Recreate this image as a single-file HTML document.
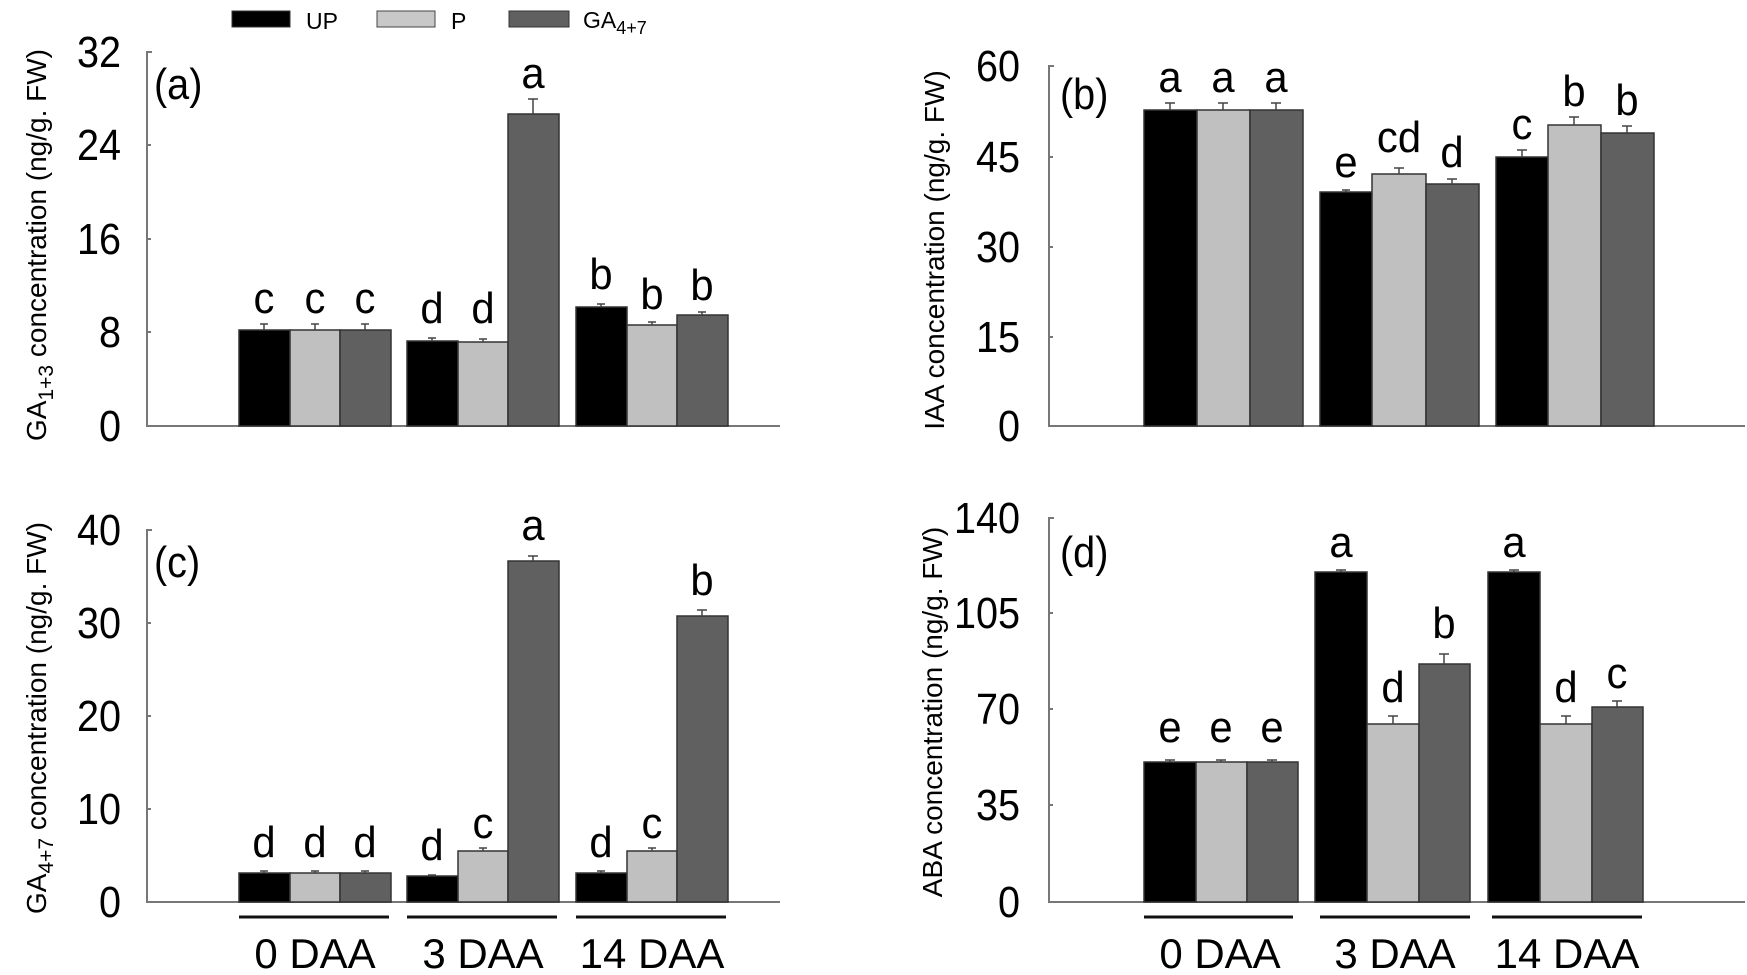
<!DOCTYPE html>
<html><head><meta charset="utf-8"><style>
html,body{margin:0;padding:0;background:#fff;}
svg{display:block;font-family:"Liberation Sans",Arial,sans-serif;}
.t{font-size:44px;fill:#000;}
.l{font-size:44px;fill:#000;}
.y{font-size:28px;fill:#000;}
.g{font-size:42px;fill:#000;}
.lg{font-size:23px;fill:#000;}
</style></head><body>
<svg width="1747" height="975" viewBox="0 0 1747 975" xmlns="http://www.w3.org/2000/svg">
<rect x="232" y="11" width="58" height="16" fill="#000" stroke="#333"/>
<text class="lg" x="306" y="29">UP</text>
<rect x="377" y="11" width="58" height="16" fill="#c8c8c8" stroke="#444"/>
<text class="lg" x="451" y="29">P</text>
<rect x="509" y="11" width="60" height="16" fill="#606060" stroke="#333"/>
<text class="lg" x="583" y="28">GA<tspan font-size="18" dy="6">4+7</tspan></text>

<g stroke="#777" stroke-width="2" fill="none">
<path d="M152 52 H147 V426 H780"/>
<path d="M147 332 h4 M147 239 h4 M147 145 h4"/>
<path d="M1054 66 H1049 V426 H1745"/>
<path d="M1049 157 h4 M1049 247 h4 M1049 337 h4"/>
<path d="M152 530 H147 V902 H780"/>
<path d="M147 623 h4 M147 716 h4 M147 809 h4"/>
<path d="M1054 518 H1049 V902 H1745"/>
<path d="M1049 613 h4 M1049 709 h4 M1049 805 h4"/>
</g>

<g class="t" text-anchor="end">
<text transform="translate(121,67) scale(.9,1)">32</text>
<text transform="translate(121,160) scale(.9,1)">24</text>
<text transform="translate(121,254) scale(.9,1)">16</text>
<text transform="translate(121,347) scale(.9,1)">8</text>
<text transform="translate(121,441) scale(.9,1)">0</text>

<text transform="translate(1020,81) scale(.9,1)">60</text>
<text transform="translate(1020,172) scale(.9,1)">45</text>
<text transform="translate(1020,262) scale(.9,1)">30</text>
<text transform="translate(1020,352) scale(.9,1)">15</text>
<text transform="translate(1020,441) scale(.9,1)">0</text>

<text transform="translate(121,545) scale(.9,1)">40</text>
<text transform="translate(121,638) scale(.9,1)">30</text>
<text transform="translate(121,731) scale(.9,1)">20</text>
<text transform="translate(121,824) scale(.9,1)">10</text>
<text transform="translate(121,917) scale(.9,1)">0</text>

<text transform="translate(1020,533) scale(.9,1)">140</text>
<text transform="translate(1020,628) scale(.9,1)">105</text>
<text transform="translate(1020,724) scale(.9,1)">70</text>
<text transform="translate(1020,820) scale(.9,1)">35</text>
<text transform="translate(1020,917) scale(.9,1)">0</text>
</g>

<g class="l">
<text transform="translate(154,99) scale(.9,1)">(a)</text>
<text transform="translate(1060,109) scale(.9,1)">(b)</text>
<text transform="translate(154,577) scale(.9,1)">(c)</text>
<text transform="translate(1060,567) scale(.9,1)">(d)</text>
</g>

<text class="y" text-anchor="middle" transform="translate(46,245) rotate(-90)">GA<tspan font-size="21" dy="7">1+3</tspan><tspan dy="-7"> concentration (ng/g. FW)</tspan></text>
<text class="y" text-anchor="middle" transform="translate(944,250) rotate(-90)">IAA concentration (ng/g. FW)</text>
<text class="y" text-anchor="middle" transform="translate(46,718) rotate(-90)">GA<tspan font-size="21" dy="7">4+7</tspan><tspan dy="-7"> concentration (ng/g. FW)</tspan></text>
<text class="y" text-anchor="middle" transform="translate(942,712) rotate(-90)">ABA concentration (ng/g. FW)</text>

<g stroke="#333" stroke-width="1.5">
<rect x="239" y="330" width="51" height="96" fill="#000"/>
<rect x="290" y="330" width="50" height="96" fill="#c0c0c0"/>
<rect x="340" y="330" width="51" height="96" fill="#606060"/>
<rect x="407" y="341" width="51" height="85" fill="#000"/>
<rect x="458" y="342" width="50" height="84" fill="#c0c0c0"/>
<rect x="508" y="114" width="51" height="312" fill="#606060"/>
<rect x="576" y="307" width="51" height="119" fill="#000"/>
<rect x="627" y="325" width="50" height="101" fill="#c0c0c0"/>
<rect x="677" y="315" width="51" height="111" fill="#606060"/>
<rect x="1144" y="110" width="53" height="316" fill="#000"/>
<rect x="1197" y="110" width="53" height="316" fill="#c0c0c0"/>
<rect x="1250" y="110" width="53" height="316" fill="#606060"/>
<rect x="1320" y="192" width="52" height="234" fill="#000"/>
<rect x="1372" y="174" width="54" height="252" fill="#c0c0c0"/>
<rect x="1426" y="184" width="53" height="242" fill="#606060"/>
<rect x="1496" y="157" width="52" height="269" fill="#000"/>
<rect x="1548" y="125" width="53" height="301" fill="#c0c0c0"/>
<rect x="1601" y="133" width="53" height="293" fill="#606060"/>
<rect x="239" y="873" width="51" height="29" fill="#000"/>
<rect x="290" y="873" width="50" height="29" fill="#c0c0c0"/>
<rect x="340" y="873" width="51" height="29" fill="#606060"/>
<rect x="407" y="876" width="51" height="26" fill="#000"/>
<rect x="458" y="851" width="50" height="51" fill="#c0c0c0"/>
<rect x="508" y="561" width="51" height="341" fill="#606060"/>
<rect x="576" y="873" width="51" height="29" fill="#000"/>
<rect x="627" y="851" width="50" height="51" fill="#c0c0c0"/>
<rect x="677" y="616" width="51" height="286" fill="#606060"/>
<rect x="1144" y="762" width="52" height="140" fill="#000"/>
<rect x="1196" y="762" width="51" height="140" fill="#c0c0c0"/>
<rect x="1247" y="762" width="51" height="140" fill="#606060"/>
<rect x="1315" y="572" width="52" height="330" fill="#000"/>
<rect x="1367" y="724" width="52" height="178" fill="#c0c0c0"/>
<rect x="1419" y="664" width="51" height="238" fill="#606060"/>
<rect x="1488" y="572" width="52" height="330" fill="#000"/>
<rect x="1540" y="724" width="52" height="178" fill="#c0c0c0"/>
<rect x="1592" y="707" width="51" height="195" fill="#606060"/>
</g>

<g stroke="#444" stroke-width="1.5" fill="none">
<path d="M264 324v6M260 324h8 M315 324v6M311 324h8 M365 324v6M361 324h8"/>
<path d="M432 338v3M428 338h8 M483 339v3M479 339h8 M533 99v15M528 99h10"/>
<path d="M601 304v3M597 304h8 M652 322v3M648 322h8 M702 312v3M698 312h8"/>
<path d="M1170 103v7M1165 103h10 M1223 103v7M1218 103h10 M1276 103v7M1271 103h10"/>
<path d="M1346 190v2M1342 190h8 M1399 168v6M1394 168h10 M1452 179v5M1447 179h10"/>
<path d="M1522 150v7M1517 150h10 M1574 117v8M1569 117h10 M1627 126v7M1622 126h10"/>
<path d="M264 871v2M260 871h8 M315 871v2M311 871h8 M365 871v2M361 871h8"/>
<path d="M432 875v1M428 875h8 M483 848v3M479 848h8 M533 556v5M528 556h10"/>
<path d="M601 871v2M597 871h8 M652 848v3M648 848h8 M702 610v6M697 610h10"/>
<path d="M1170 760v2M1165 760h10 M1221 760v2M1216 760h10 M1272 760v2M1267 760h10"/>
<path d="M1341 570v2M1336 570h10 M1393 716v8M1388 716h10 M1444 654v10M1439 654h10"/>
<path d="M1514 570v2M1509 570h10 M1566 716v8M1561 716h10 M1617 701v6M1612 701h10"/>
</g>

<g class="l" text-anchor="middle">
<text transform="translate(264,313) scale(.95,1)">c</text>
<text transform="translate(315,313) scale(.95,1)">c</text>
<text transform="translate(365,313) scale(.95,1)">c</text>
<text transform="translate(432,323) scale(.95,1)">d</text>
<text transform="translate(483,323) scale(.95,1)">d</text>
<text transform="translate(533,88) scale(.95,1)">a</text>
<text transform="translate(601,289) scale(.95,1)">b</text>
<text transform="translate(652,309) scale(.95,1)">b</text>
<text transform="translate(702,300) scale(.95,1)">b</text>

<text transform="translate(1170,92) scale(.95,1)">a</text>
<text transform="translate(1223,92) scale(.95,1)">a</text>
<text transform="translate(1276,92) scale(.95,1)">a</text>
<text transform="translate(1346,177) scale(.95,1)">e</text>
<text transform="translate(1399,152) scale(.95,1)">cd</text>
<text transform="translate(1452,167) scale(.95,1)">d</text>
<text transform="translate(1522,139) scale(.95,1)">c</text>
<text transform="translate(1574,106) scale(.95,1)">b</text>
<text transform="translate(1627,115) scale(.95,1)">b</text>

<text transform="translate(264,857) scale(.95,1)">d</text>
<text transform="translate(315,857) scale(.95,1)">d</text>
<text transform="translate(365,857) scale(.95,1)">d</text>
<text transform="translate(432,860) scale(.95,1)">d</text>
<text transform="translate(483,838) scale(.95,1)">c</text>
<text transform="translate(533,540) scale(.95,1)">a</text>
<text transform="translate(601,857) scale(.95,1)">d</text>
<text transform="translate(652,838) scale(.95,1)">c</text>
<text transform="translate(702,595) scale(.95,1)">b</text>

<text transform="translate(1170,742) scale(.95,1)">e</text>
<text transform="translate(1221,742) scale(.95,1)">e</text>
<text transform="translate(1272,742) scale(.95,1)">e</text>
<text transform="translate(1341,557) scale(.95,1)">a</text>
<text transform="translate(1393,702) scale(.95,1)">d</text>
<text transform="translate(1444,638) scale(.95,1)">b</text>
<text transform="translate(1514,557) scale(.95,1)">a</text>
<text transform="translate(1566,702) scale(.95,1)">d</text>
<text transform="translate(1617,688) scale(.95,1)">c</text>
</g>

<g stroke="#111" stroke-width="3">
<path d="M239 917H389 M407 917H557 M576 917H726"/>
<path d="M1144 917H1293 M1320 917H1470 M1492 917H1642"/>
</g>
<g class="g" text-anchor="middle">
<text transform="translate(315,968)">0 DAA</text>
<text transform="translate(483,968)">3 DAA</text>
<text transform="translate(652,968)">14 DAA</text>
<text transform="translate(1220,968)">0 DAA</text>
<text transform="translate(1395,968)">3 DAA</text>
<text transform="translate(1567,968)">14 DAA</text>
</g>
</svg>
</body></html>
